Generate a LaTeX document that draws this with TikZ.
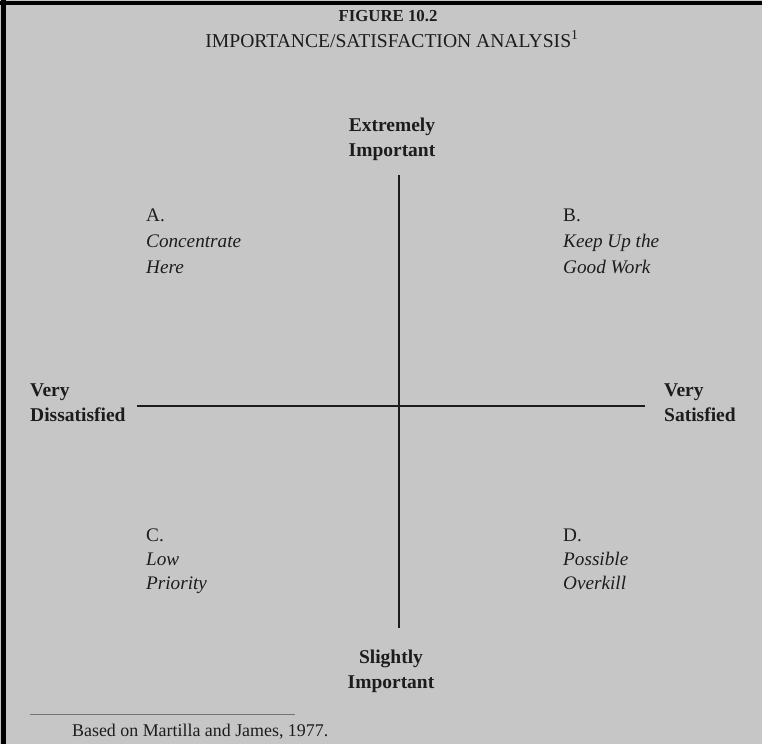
\documentclass[tikz,border=0pt]{standalone}
\usepackage{fontspec}
\setmainfont{Liberation Serif}
\definecolor{bg}{HTML}{C6C6C6}
\definecolor{ink}{HTML}{1C1C1C}
\tikzset{
  x=1pt, y=-1pt,
  txt/.style={inner sep=0pt, text=ink, font=\fontsize{19.5}{25}\selectfont, align=left},
  axislbl/.style={txt, font=\fontsize{19.5}{25}\selectfont\bfseries},
  quad/.style={txt, font=\fontsize{19.2}{26}\selectfont},
  quadlow/.style={txt, font=\fontsize{19.2}{24}\selectfont},
  axisline/.style={draw=ink, line width=1.6pt},
}
\begin{document}
\begin{tikzpicture}
\fill[bg] (0,0) rectangle (762,744);
\useasboundingbox (0,0) rectangle (762,744);
% frame
\fill[black] (0,0.5) rectangle (762,5);
\fill[black] (0.5,0) rectangle (6,744);

% titles
\node[txt, anchor=base, font=\fontsize{16.8}{20}\selectfont\bfseries] (fig) at (388,21) {FIGURE 10.2};
\node[txt, anchor=base, font=\fontsize{19.6}{22}\selectfont] (title) at (392,47) {IMPORTANCE/SATISFACTION ANALYSIS\textsuperscript{1}};

% axis labels
\node[axislbl, anchor=north, align=center] (top) at (392,118) {Extremely\\Important};
\node[axislbl, anchor=north, align=center] (bottom) at (391,650) {Slightly\\Important};
\node[axislbl, anchor=north west] (left) at (30,384) {Very\\Dissatisfied};
\node[axislbl, anchor=north west] (right) at (664,384) {Very\\Satisfied};

% axes
\coordinate (vtop) at (399,175);
\coordinate (vbot) at (399,628);
\coordinate (hleft) at (137,406);
\coordinate (hright) at (645,406);
\draw[axisline] (vtop) -- (vbot);
\draw[axisline] (hleft) -- (hright);

% quadrants
\node[quad, anchor=north west] (qa) at (146,208.5) {A.\\\textit{Concentrate}\\\textit{Here}};
\node[quad, anchor=north west] (qb) at (563,208.5) {B.\\\textit{Keep Up the}\\\textit{Good Work}};
\node[quadlow, anchor=north west] (qc) at (146,528.5) {C.\\\textit{Low}\\\textit{Priority}};
\node[quadlow, anchor=north west] (qd) at (563,528.5) {D.\\\textit{Possible}\\\textit{Overkill}};

% footnote
\coordinate (fnl) at (30,714);
\coordinate (fnr) at (295,714);
\draw[draw=black!55, line width=1pt] (fnl) -- (fnr);
\node[txt, anchor=base west, font=\fontsize{17.9}{20}\selectfont] (fn) at (72,736) {Based on Martilla and James, 1977.};
\end{tikzpicture}
\end{document}
